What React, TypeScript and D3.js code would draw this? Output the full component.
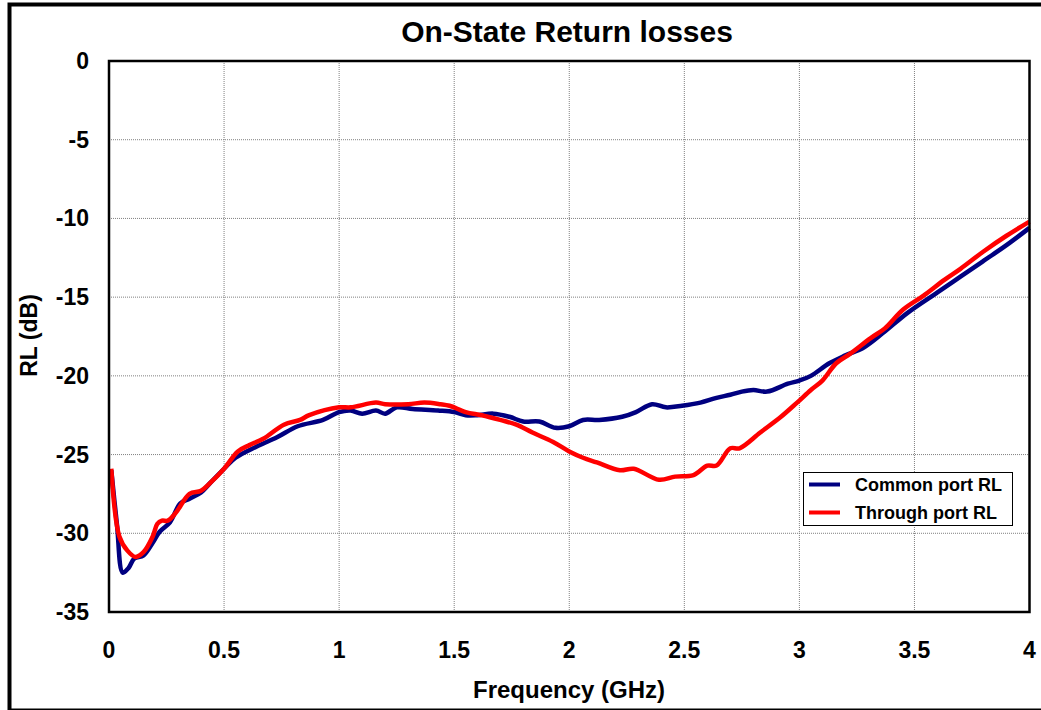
import React from "react";
import * as d3 from "d3";

// Common port RL (GHz, dB)
const commonFreq = [
  0.01, 0.035, 0.06, 0.085, 0.11, 0.15, 0.19, 0.22, 0.265, 0.31, 0.35, 0.4,
  0.44, 0.5, 0.55, 0.64, 0.73, 0.82, 0.93, 1.0, 1.05, 1.1, 1.16, 1.2, 1.25,
  1.32, 1.43, 1.5, 1.55, 1.6, 1.67, 1.74, 1.8, 1.87, 1.94, 2.0, 2.06, 2.13,
  2.23, 2.29, 2.36, 2.42, 2.49, 2.57, 2.64, 2.7, 2.75, 2.8, 2.86, 2.95, 3.0,
  3.05, 3.13, 3.2, 3.28, 3.37, 3.47, 3.6, 3.7, 3.8, 3.9, 4.0,
];
const commonRL = [
  -26.0, -29.5, -32.5, -32.2, -31.6, -31.4, -30.6, -29.9, -29.3, -28.1, -27.8,
  -27.4, -26.8, -25.9, -25.2, -24.5, -23.9, -23.2, -22.8, -22.3, -22.2, -22.4,
  -22.2, -22.4, -22.0, -22.1, -22.2, -22.3, -22.5, -22.5, -22.4, -22.6, -22.9,
  -22.9, -23.3, -23.2, -22.8, -22.8, -22.6, -22.3, -21.8, -22.0, -21.9, -21.7,
  -21.4, -21.2, -21.0, -20.9, -21.0, -20.5, -20.3, -20.0, -19.2, -18.7, -18.2,
  -17.2, -16.0, -14.7, -13.7, -12.7, -11.7, -10.6,
];

// Through port RL (GHz, dB)
const throughFreq = [
  0.01, 0.045, 0.08, 0.115, 0.15, 0.19, 0.21, 0.23, 0.255, 0.29, 0.35, 0.4,
  0.44, 0.5, 0.56, 0.61, 0.67, 0.76, 0.83, 0.87, 1.0, 1.05, 1.16, 1.2, 1.3,
  1.37, 1.44, 1.48, 1.55, 1.62, 1.7, 1.77, 1.84, 1.93, 2.0, 2.06, 2.12, 2.22,
  2.28, 2.39, 2.46, 2.54, 2.6, 2.64, 2.7, 2.74, 2.83, 2.92, 2.99, 3.05, 3.1,
  3.16, 3.22, 3.31, 3.37, 3.45, 3.54, 3.63, 3.7, 3.8, 3.9, 4.0,
];
const throughRL = [
  -25.9, -30.2, -31.1, -31.5, -31.2, -30.2, -29.4, -29.2, -29.2, -28.7, -27.5,
  -27.3, -26.8, -25.9, -24.8, -24.4, -24.0, -23.1, -22.8, -22.5, -22.0, -22.0,
  -21.7, -21.8, -21.8, -21.7, -21.8, -21.9, -22.3, -22.5, -22.8, -23.1, -23.6,
  -24.2, -24.8, -25.2, -25.5, -26.0, -25.9, -26.6, -26.4, -26.3, -25.7, -25.7,
  -24.6, -24.6, -23.6, -22.6, -21.7, -20.9, -20.3, -19.2, -18.6, -17.6, -17.0,
  -15.8, -14.9, -13.9, -13.2, -12.1, -11.1, -10.2,
];

const xTicks = [0, 0.5, 1, 1.5, 2, 2.5, 3, 3.5, 4];
const yTicks = [0, -5, -10, -15, -20, -25, -30, -35];

const seriesNames = ["Common port RL", "Through port RL"];
const seriesColors = ["#000080", "#ff0000"];

export default function App() {
  const svgRef = React.useRef<SVGSVGElement>(null);

  const width = 1041;
  const height = 710;
  const plot = { left: 109, top: 61, right: 1029.5, bottom: 612 };
  const font = "'Liberation Sans', Arial, sans-serif";

  React.useEffect(() => {
    const svg = d3.select(svgRef.current);
    svg.selectAll("*").remove();

    /* Scale */
    const x = d3.scaleLinear().domain([0, 4]).range([plot.left, plot.right]);
    const y = d3.scaleLinear().domain([-35, 0]).range([plot.bottom, plot.top]);

    /* Outer frame */
    svg
      .append("rect")
      .attr("x", 9.5)
      .attr("y", 4.5)
      .attr("width", 1040)
      .attr("height", 706)
      .attr("fill", "white")
      .attr("stroke", "black")
      .attr("stroke-width", 4);

    /* Grid */
    const grid = svg.append("g").attr("stroke", "#808080").attr("stroke-width", 1).attr("stroke-dasharray", "1,1");
    xTicks.slice(1, -1).forEach((t) => {
      grid.append("line").attr("x1", x(t)).attr("x2", x(t)).attr("y1", plot.top).attr("y2", plot.bottom);
    });
    yTicks.slice(1, -1).forEach((t) => {
      grid.append("line").attr("x1", plot.left).attr("x2", plot.right).attr("y1", y(t)).attr("y2", y(t));
    });

    /* Lines */
    const line = d3
      .line<[number, number]>()
      .x((d) => x(d[0]))
      .y((d) => y(d[1]))
      .curve(d3.curveCatmullRom.alpha(0.5));

    const series: [number, number][][] = [
      commonFreq.map((f, i) => [f, commonRL[i]]),
      throughFreq.map((f, i) => [f, throughRL[i]]),
    ];

    series.forEach((s, i) => {
      svg
        .append("path")
        .attr("d", line(s))
        .attr("fill", "none")
        .attr("stroke", seriesColors[i])
        .attr("stroke-width", 4.5)
        .attr("stroke-linejoin", "round");
    });

    /* Plot frame */
    svg
      .append("rect")
      .attr("x", plot.left)
      .attr("y", plot.top)
      .attr("width", plot.right - plot.left)
      .attr("height", plot.bottom - plot.top)
      .attr("fill", "none")
      .attr("stroke", "black")
      .attr("stroke-width", 2.5);

    /* Tick labels */
    svg
      .append("g")
      .selectAll("text")
      .data(xTicks)
      .enter()
      .append("text")
      .attr("x", (d) => x(d))
      .attr("y", 658)
      .attr("text-anchor", "middle")
      .style("font", `bold 23px ${font}`)
      .text((d) => String(d));

    svg
      .append("g")
      .selectAll("text")
      .data(yTicks)
      .enter()
      .append("text")
      .attr("x", 89)
      .attr("y", (d) => y(d) + 8)
      .attr("text-anchor", "end")
      .style("font", `bold 23px ${font}`)
      .text((d) => String(d));

    /* Titles */
    svg
      .append("text")
      .attr("x", 567)
      .attr("y", 42)
      .attr("text-anchor", "middle")
      .style("font", `bold 30px ${font}`)
      .text("On-State Return losses");

    svg
      .append("text")
      .attr("x", 569)
      .attr("y", 698)
      .attr("text-anchor", "middle")
      .style("font", `bold 24px ${font}`)
      .text("Frequency (GHz)");

    svg
      .append("text")
      .attr("transform", `translate(37, ${(plot.top + plot.bottom) / 2 - 1}) rotate(-90)`)
      .attr("text-anchor", "middle")
      .style("font", `bold 23px ${font}`)
      .text("RL (dB)");

    /* Legend */
    const legend = svg.append("g").attr("transform", "translate(803, 472)");
    legend
      .append("rect")
      .attr("x", 0.5)
      .attr("y", 0.5)
      .attr("width", 209)
      .attr("height", 53)
      .attr("fill", "white")
      .attr("stroke", "black")
      .attr("stroke-width", 1);
    seriesNames.forEach((name, i) => {
      const ly = 12.5 + i * 28;
      legend
        .append("line")
        .attr("x1", 6)
        .attr("x2", 37)
        .attr("y1", ly)
        .attr("y2", ly)
        .attr("stroke", seriesColors[i])
        .attr("stroke-width", 4);
      legend
        .append("text")
        .attr("x", 52)
        .attr("y", ly + 6)
        .style("font", `bold 18px ${font}`)
        .text(name);
    });
    // eslint-disable-next-line
  }, []);

  return (
    <svg
      ref={svgRef}
      width={width}
      height={height}
      style={{ position: "absolute", left: 0, top: 0 }}
    />
  );
}
